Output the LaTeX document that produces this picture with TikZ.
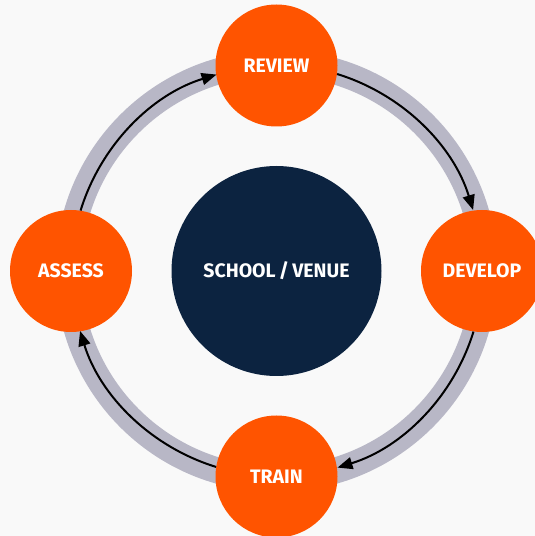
\documentclass[tikz,border=0pt]{standalone}
\usepackage{fontspec}
\setmainfont{Fira Sans}
\usepackage{tikz}
\usetikzlibrary{arrows.meta}
\definecolor{stageorange}{RGB}{255,84,0}
\definecolor{hubnavy}{RGB}{12,35,64}
\definecolor{ringgray}{RGB}{184,183,198}
\definecolor{paper}{RGB}{249,249,249}
\tikzstyle{stage}=[circle,fill=stageorange,text=white,minimum size=122pt,inner sep=0pt,font=\fontsize{19.5}{21}\selectfont\bfseries]
\tikzstyle{hub}=[circle,fill=hubnavy,text=white,minimum size=210pt,inner sep=0pt,font=\fontsize{19.5}{21}\selectfont\bfseries]
\tikzstyle{flow} = [draw, line width=2pt, -{Triangle[length=15pt,width=12pt]}]

\begin{document}
\begin{tikzpicture}[x=1pt,y=1pt]
  \fill[paper] (0,0) rectangle (535,536);
  \useasboundingbox (0,0) rectangle (535,536);

  % ring
  \draw[ringgray, line width=26pt] (276.5,265) circle (208);

  \node[hub] (school) at (276.5,265) {SCHOOL\,/\,VENUE};
  \node[stage] (review) at (276.5,470.5) {REVIEW};
  \node[stage] (develop) at (482,265) {DEVELOP};
  \node[stage] (train) at (276.5,59.5) {TRAIN};
  \node[stage] (assess) at (71,265) {ASSESS};

  % cycle
  \draw[flow] (review.-8.55) arc[start angle=72.9, end angle=17.1, radius=205.5];
  \draw[flow] (develop.-98.55) arc[start angle=-17.1, end angle=-72.9, radius=205.5];
  \draw[flow] (train.171.45) arc[start angle=-107.1, end angle=-162.9, radius=205.5];
  \draw[flow] (assess.81.45) arc[start angle=162.9, end angle=107.1, radius=205.5];
\end{tikzpicture}
\end{document}
